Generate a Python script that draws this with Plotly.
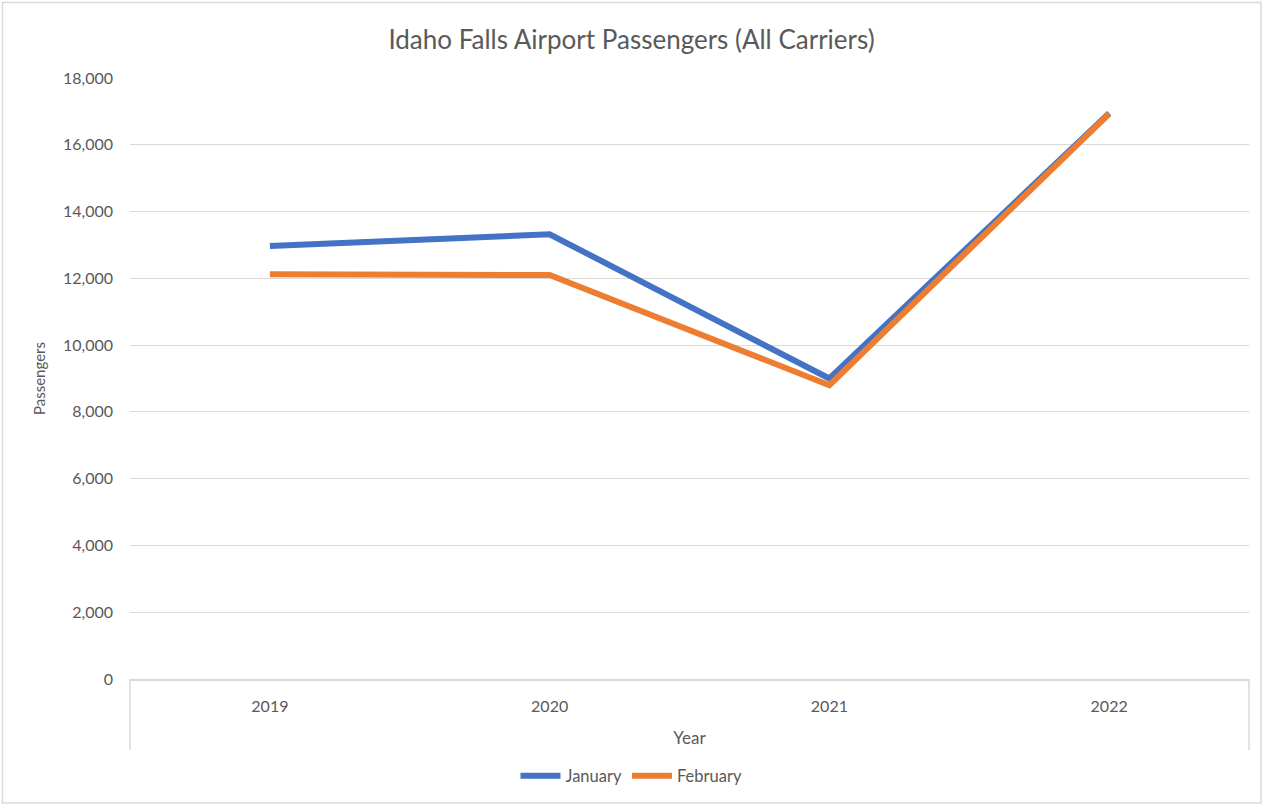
import plotly.graph_objects as go

years = ["2019", "2020", "2021", "2022"]
january = [12970, 13320, 9000, 16950]
february = [12120, 12100, 8800, 16930]

W, H = 1263, 805
ML, MR, MT, MB = 130, 14, 78, 126
PW, PH = W - ML - MR, H - MT - MB

def px_x(p):
    return (p - ML) / PW

def px_y(p):
    return (H - MB - p) / PH

fig = go.Figure()
fig.add_trace(go.Scatter(x=years, y=january, mode="lines", name="January",
                         line=dict(color="#4472C4", width=6)))
fig.add_trace(go.Scatter(x=years, y=february, mode="lines", name="February",
                         line=dict(color="#ED7D31", width=6)))

grey = "#D9D9D9"
shapes = [
    dict(type="rect", xref="paper", yref="paper", x0=px_x(2.5), x1=px_x(1261),
         y0=px_y(803), y1=px_y(2.5), line=dict(color=grey, width=1.5), layer="below"),
    dict(type="line", xref="paper", yref="paper", x0=0, x1=0, y0=0, y1=px_y(750),
         line=dict(color=grey, width=1.5)),
    dict(type="line", xref="paper", yref="paper", x0=1, x1=1, y0=0, y1=px_y(750),
         line=dict(color=grey, width=1.5)),
]

font_family = "Lato, Open Sans, DejaVu Sans, sans-serif"
txt = "#595959"
fig.update_layout(
    width=W, height=H,
    margin=dict(l=ML, r=MR, t=MT, b=MB),
    paper_bgcolor="white", plot_bgcolor="white",
    title=dict(text="Idaho Falls Airport Passengers (All Carriers)",
               x=0.5, xref="container", xanchor="center",
               y=1 - 40 / H, yanchor="middle", yref="container",
               font=dict(family=font_family, size=26, color=txt)),
    font=dict(family=font_family, color=txt, size=16),
    showlegend=True,
    legend=dict(orientation="h", x=0.5, xanchor="center", xref="container",
                y=1 - 776 / H, yref="container", yanchor="middle",
                font=dict(size=16.5, color=txt), itemwidth=40),
    shapes=shapes,
    xaxis=dict(type="category", range=[-0.5, 3.5], showgrid=False,
               showline=True, linecolor=grey, linewidth=1.5,
               ticks="", ticklabelstandoff=12,
               tickfont=dict(size=16, color=txt),
               title=dict(text="Year", font=dict(size=17, color=txt), standoff=18)),
    yaxis=dict(range=[0, 18000], dtick=2000, tickformat=",", showgrid=True,
               gridcolor=grey, gridwidth=1, zeroline=False, showline=False,
               ticks="", ticklabelstandoff=16,
               tickfont=dict(size=16, color=txt),
               title=dict(text="Passengers", font=dict(size=15, color=txt), standoff=13)),
)

fig.write_html("out.html", config={"displayModeBar": False},
               post_script="document.body.style.margin='0';document.body.style.overflow='hidden';")
